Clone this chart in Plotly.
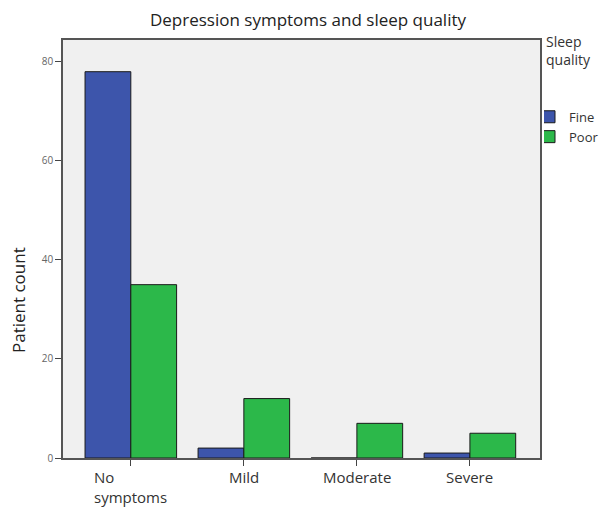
import plotly.graph_objects as go

categories = ["No symptoms", "Mild", "Moderate", "Severe"]
category_labels = ["No<br>symptoms", "Mild", "Moderate", "Severe"]
fine = [78, 2, 0, 1]
poor = [35, 12, 7, 5]
y_ticks = [0, 20, 40, 60, 80]

# The page body adds an 8px offset, so the figure is laid out 8px up/left.
W, H = 600, 500
ML, MR, MT, MB = 55, 4, 32, 50
plot_right = 532
PW = W - ML - MR
PH = H - MT - MB
dom_right = (plot_right - ML) / PW

fig = go.Figure()
fig.add_trace(go.Bar(x=categories, y=fine, name="Fine",
                     marker=dict(color="#3d55ab", line=dict(color="#1a1a1a", width=1))))
fig.add_trace(go.Bar(x=categories, y=poor, name="Poor",
                     marker=dict(color="#2cb84a", line=dict(color="#1a1a1a", width=1))))

for cat, lab in zip(categories, category_labels):
    fig.add_annotation(x=cat, xref="x", y=0, yref="paper", yshift=-7,
                       text=lab, showarrow=False, xanchor="center", yanchor="top",
                       align="left", font=dict(size=15, color="#333"))

# y-axis title (placed slightly below the vertical centre, as in the reference)
fig.add_annotation(x=0, xref="paper", xshift=-44, y=0.378, yref="paper",
                   text="Patient count", textangle=-90, showarrow=False,
                   xanchor="center", yanchor="middle",
                   font=dict(size=17, color="#222"))

fig.update_layout(
    width=W, height=H,
    margin=dict(l=ML, r=MR, t=MT, b=MB, autoexpand=False),
    paper_bgcolor="white", plot_bgcolor="#f0f0f0",
    font=dict(family="Open Sans", color="#333"),
    title=dict(text="Depression symptoms and sleep quality", x=0.5, xanchor="center",
               y=1 - 12 / H, yanchor="middle", font=dict(size=17, color="#222")),
    barmode="group", bargap=0.19, bargroupgap=0,
    showlegend=True,
    legend=dict(title=dict(text="Sleep<br>quality<br> <br> ", font=dict(size=14)),
                x=(536 - ML) / PW, xanchor="left", y=1 + (MT - 21) / PH, yanchor="top",
                font=dict(size=13), bgcolor="rgba(0,0,0,0)",
                indentation=-15, itemwidth=30),
)
fig.update_xaxes(domain=[0, dom_right], range=[-0.6, 3.62], showticklabels=False,
                 ticks="outside", ticklen=6,
                 tickcolor="#444", showline=True, linecolor="#555", linewidth=1.5,
                 mirror=True, showgrid=False)
fig.update_yaxes(range=[0, 84.4], tickvals=y_ticks, ticks="outside", ticklen=6,
                 tickcolor="#444", showline=True, linecolor="#555", linewidth=1.5,
                 mirror=True, showgrid=False, zeroline=False, automargin=False,
                 tickfont=dict(size=10, color="#666"))

fig.write_html("out.html")
